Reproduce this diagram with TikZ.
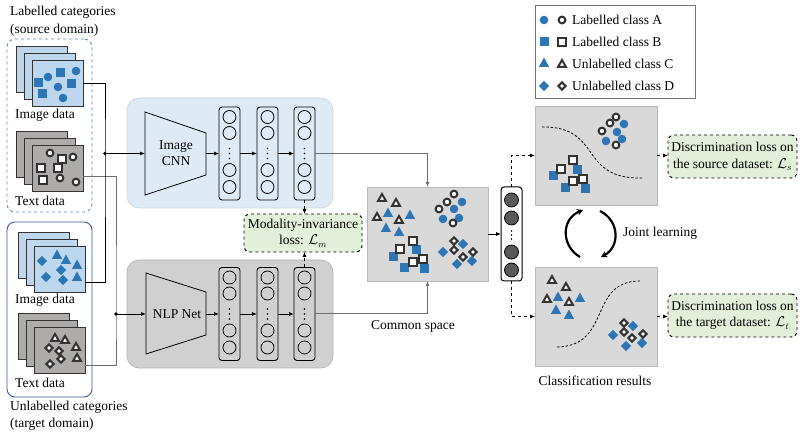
\documentclass[tikz,border=0pt]{standalone}
\usepackage{fontspec}
\setmainfont{Liberation Serif}
\usetikzlibrary{arrows.meta}
\definecolor{mblue}{HTML}{2E75B6}
\definecolor{lblue}{HTML}{BDD7EE}
\definecolor{pblue}{HTML}{DEEBF7}
\definecolor{pgray}{HTML}{D0D0D0}
\definecolor{sgray}{HTML}{D9D9D9}
\definecolor{tgray}{HTML}{AFABAB}
\definecolor{lgreen}{HTML}{E2F0D9}
\definecolor{dgray}{HTML}{333333}
\definecolor{lineg}{HTML}{6E6E6E}
\definecolor{dblue}{HTML}{5B8BC5}
\definecolor{sblue}{HTML}{2F5F9F}
\tikzset{
  hol/.style={draw=dgray, line width=2pt, fill=white, line join=miter},
  txt/.style={font=\fontsize{13.5}{16}\selectfont, inner sep=0pt},
  rbox/.style={inner sep=0pt, outer sep=0pt},
  layerbox/.style={draw, line width=0.9pt, rounded corners=3pt, minimum width=21, minimum height=93, inner sep=0pt, outer sep=0pt},
  tip/.style={-{Latex[length=5pt,width=4pt]}},
  imgline/.style={line width=0.8pt, black},
  txtline/.style={line width=1pt, lineg},
  lossbox/.style={draw, dashed, line width=0.9pt, rounded corners=6pt, fill=lgreen, align=center, inner sep=0pt, outer sep=0pt, font=\fontsize{13.5}{16.5}\selectfont},
  stackrect/.style={draw=dgray, line width=0.9pt},
}
\newcommand\Cf[2]{\fill[mblue] (#1,#2) circle (4.3);}
\newcommand\Ch[2]{\draw[hol] (#1,#2) circle (3.4);}
\newcommand\Sf[2]{\fill[mblue] (#1,#2) ++(-4.5,-4.5) rectangle ++(9,9);}
\newcommand\Sh[2]{\draw[hol] (#1,#2) ++(-3.6,-3.6) rectangle ++(7.2,7.2);}
\newcommand\Tf[2]{\fill[mblue] (#1,#2) ++(0,-5.5) -- ++(5.2,9.5) -- ++(-10.4,0) -- cycle;}
\newcommand\Th[2]{\draw[hol] (#1,#2) ++(0,-4) -- ++(4,7) -- ++(-8,0) -- cycle;}
\newcommand\Df[2]{\fill[mblue] (#1,#2) ++(0,-5.2) -- ++(5.2,5.2) -- ++(-5.2,5.2) -- ++(-5.2,-5.2) -- cycle;}
\newcommand\Dh[2]{\draw[hol] (#1,#2) ++(0,-3.6) -- ++(3.6,3.6) -- ++(-3.6,3.6) -- ++(-3.6,-3.6) -- cycle;}
% stack: name, front left x, front top y, fill
\newcommand\stack[4]{%
  \draw[stackrect, fill=#4] (#2,#3) ++(-16,-14) rectangle ++(51,46);
  \draw[stackrect, fill=#4] (#2,#3) ++(-8,-7) rectangle ++(51,46);
  \node[rbox, draw=dgray, line width=0.9pt, fill=#4, minimum width=51, minimum height=46] (#1) at (#2+25.5,#3+23) {};}
\newcommand\layer[3]{%
  \node[layerbox] (#1) at (#2,#3) {};
  \foreach \d in {-36.5,-20.5,16.5,33.5}{\draw[line width=0.8pt] (#2,#3) ++(0,\d) circle (6.5);}
  \foreach \d in {-5,0,5}{\fill (#2,#3) ++(0,\d) circle (0.8);}}
\begin{document}
\begin{tikzpicture}[x=1pt,y=-1pt]
\useasboundingbox (0,0) rectangle (803,435);

% ---------- left groups ----------
\node[txt, anchor=west] (lab1) at (10,12) {Labelled categories};
\node[txt, anchor=west] (lab2) at (10,30) {(source domain)};
\node[rbox, draw=dblue, dashed, line width=0.9pt, rounded corners=8pt, minimum width=85, minimum height=173] (srcbox) at (49.5,125.5) {};
\stack{imgS}{32}{60}{lblue}
\Cf{48}{77}\Cf{76}{71}\Cf{58}{87}\Cf{63}{98}
\Sf{38}{83}\Sf{60}{73}\Sf{71}{84}\Sf{42}{94}
\node[txt, anchor=west] (imgSl) at (15,115) {Image data};
\stack{txtS}{32}{145}{tgray}
\Sh{62}{159}\Sh{41}{168}\Sh{58}{168}\Sh{43}{180}
\Ch{50}{153}\Ch{73}{157}\Ch{60}{178}\Ch{76}{182}
\node[txt, anchor=west] (txtSl) at (15,201) {Text data};

\node[rbox, draw=sblue, line width=0.9pt, rounded corners=8pt, minimum width=85, minimum height=175] (tgtbox) at (49.5,309.5) {};
\stack{imgT}{34}{246}{lblue}
\Tf{57}{255}\Tf{66}{260}\Tf{77}{265}\Tf{77}{277}
\Df{42}{261}\Df{61}{270}\Df{46}{277}\Df{63}{280}
\node[txt, anchor=west] (imgTl) at (15,300) {Image data};
\stack{txtT}{34}{327}{tgray}
\Th{55}{338}\Th{65}{340}\Th{76}{347}\Th{77}{358}
\Dh{49}{348}\Dh{59}{351}\Dh{61}{359}\Dh{50}{364}
\node[txt, anchor=west] (txtTl) at (15,383) {Text data};
\node[txt, anchor=west] (lab3) at (10,407) {Unlabelled categories};
\node[txt, anchor=west] (lab4) at (10,424) {(target domain)};

% ---------- panels ----------
\node[rbox, draw=pblue!80!gray, line width=0.6pt, fill=pblue, rounded corners=12pt, minimum width=206, minimum height=110] (cnnp) at (230,153) {};
\node[rbox, draw=pgray!85!black, line width=0.6pt, fill=pgray, rounded corners=12pt, minimum width=206, minimum height=108] (nlpp) at (230,314) {};

\draw[line width=0.8pt] (145,112) -- (206,133) -- (206,175) -- (145,195) -- cycle;
\node[txt, align=center] (cnnt) at (176,153) {Image\\CNN};
\coordinate (cnnL) at (145,153.5);
\coordinate (cnnR) at (206,153.5);
\draw[line width=0.8pt] (146,273) -- (206,292) -- (206,335) -- (146,354) -- cycle;
\node[txt] (nlpt) at (177,314) {NLP Net};
\coordinate (nlpL) at (146,314);
\coordinate (nlpR) at (206,314);

\layer{c1}{229.5}{153.5}
\layer{c2}{267.5}{153.5}
\layer{c3}{304.5}{153.5}
\layer{n1}{229.5}{314}
\layer{n2}{267.5}{314}
\layer{n3}{304.5}{314}

% ---------- input connectors ----------
\coordinate (jI) at (105,153.5);
\coordinate (jT) at (116,314);
\draw[txtline] ([yshift=-9pt]txtS.east) -| (jT) |- ([yshift=-16pt]txtT.east);
\draw[imgline] (imgS.east) -| (jI) |- ([yshift=-13pt]imgT.east);
\fill (jI) circle (1.9);
\fill (jT) circle (1.9);
\draw[imgline, tip] (jI) -- (cnnL);
\draw[imgline, tip] (jT) -- (nlpL);
\draw[imgline, tip] (cnnR) -- (c1.west);
\draw[imgline, tip] (c1.east) -- (c2.west);
\draw[imgline, tip] (c2.east) -- (c3.west);
\draw[imgline, tip] (nlpR) -- (n1.west);
\draw[imgline, tip] (n1.east) -- (n2.west);
\draw[imgline, tip] (n2.east) -- (n3.west);

% ---------- modality loss ----------
\node[lossbox, minimum width=118, minimum height=38] (ml) at (303,233) {Modality-invariance\\loss: $\mathcal{L}_m$};
\draw[imgline, dashed, tip] (c3.south) -- (c3.south |- ml.north);
\draw[imgline, dashed, tip] (n3.north) -- (n3.north |- ml.south);

% ---------- common space ----------
\node[rbox, draw=sgray!85!black, line width=0.6pt, fill=sgray, minimum width=121, minimum height=94] (cs) at (427.5,234) {};
\draw[txtline, tip] (c3.east) -| (cs.north);
\draw[txtline, tip] (n3.east) -| (cs.south);
\node[txt] (csl) at (413,326) {Common space};
\Tf{388}{213}\Tf{410}{215}\Tf{386}{228}\Tf{399}{232}
\Th{382}{198}\Th{396}{203}\Th{377}{217}\Th{399}{220}
\Cf{462}{202}\Cf{454}{209}\Cf{443}{219}\Cf{459}{218}
\Ch{454}{194}\Ch{447}{202}\Ch{439}{209}\Ch{453}{223}
\Sf{416}{250}\Sf{393}{257}\Sf{404}{268}\Sf{424}{269}
\Sh{413}{241}\Sh{400}{249}\Sh{423}{259}\Sh{413}{262}
\Df{463}{244}\Df{443}{252}\Df{472}{261}\Df{457}{264}
\Dh{454}{241}\Dh{454}{250}\Dh{463}{257}\Dh{473}{252}

% ---------- classifier ----------
\node[rbox, draw, line width=1pt, fill=white, rounded corners=3pt, minimum width=21, minimum height=94] (cl) at (511.5,234) {};
\foreach \d in {-34,-16,18,36}{\draw[line width=0.8pt, fill=black!65] (511.5,234) ++(0,\d) circle (7);}
\foreach \d in {-4,0,4}{\fill (511.5,235) ++(0,\d) circle (0.8);}
\draw[imgline, tip] (cs.east) -- (cl.west);

% ---------- result panels ----------
\node[rbox, draw=sgray!85!black, line width=0.6pt, fill=sgray, minimum width=122, minimum height=99] (rs) at (596,155.5) {};
\node[rbox, draw=sgray!85!black, line width=0.6pt, fill=sgray, minimum width=122, minimum height=99] (rt) at (596,316.5) {};
\draw[imgline, dashed, tip] (cl.north) |- (rs.west);
\draw[imgline, dashed, tip] (cl.south) |- (rt.west);
\draw[line width=0.8pt, dashed, dash pattern=on 2.5pt off 1.8pt] (542,127) .. controls (603,126) and (578,180) .. (643,178);
\draw[line width=0.8pt, dashed, dash pattern=on 2.5pt off 1.8pt] (557,347) .. controls (612,346) and (588,281) .. (640,281);
\Cf{624}{124}\Cf{617}{132}\Cf{606}{141}\Cf{622}{139}
\Ch{616}{117}\Ch{610}{123}\Ch{602}{131}\Ch{616}{145}
\Sf{577}{170}\Sf{553}{176}\Sf{565}{188}\Sf{585}{189}
\Sh{573}{160}\Sh{561}{169}\Sh{583}{179}\Sh{573}{181}
\Tf{558}{297}\Tf{580}{298}\Tf{556}{310}\Tf{569}{315}
\Th{552}{280}\Th{566}{287}\Th{547}{299}\Th{569}{302}
\Df{633}{326}\Df{613}{335}\Df{642}{343}\Df{626}{346}
\Dh{624}{323}\Dh{643}{334}\Dh{624}{332}\Dh{632}{338}
\node[txt] (crl) at (595,381) {Classification results};

% ---------- loss boxes ----------
\node[lossbox, minimum width=129, minimum height=43] (ls) at (732.5,156.5) {Discrimination loss on\\the source dataset: $\mathcal{L}_s$};
\node[lossbox, minimum width=129, minimum height=43] (lt) at (732.5,315.5) {Discrimination loss on\\the target dataset: $\mathcal{L}_t$};
\draw[imgline, dashed, tip] (rs.east) -- (rs.east -| ls.west);
\draw[imgline, dashed, tip] (rt.east) -- (rt.east -| lt.west);

% ---------- joint learning ----------
\coordinate (jl1) at (580,257);
\coordinate (jl2) at (583,210);
\coordinate (jl3) at (600,211);
\coordinate (jl4) at (601,257);
\draw[line width=2.2pt, -{Stealth[length=6pt,width=6.5pt]}] (jl1) .. controls (561,246) and (561,219) .. (jl2);
\draw[line width=2.2pt, -{Stealth[length=6pt,width=6.5pt]}] (jl3) .. controls (620,221) and (620,247) .. (jl4);
\node[txt, anchor=west] (jll) at (623,233) {Joint learning};

% ---------- legend ----------
\node[rbox, draw=black!55, line width=0.8pt, fill=white, minimum width=160, minimum height=93] (lg) at (615,51.5) {};
\Cf{544}{20}\Ch{562}{20}
\Sf{544}{42}\Sh{562}{42}
\Tf{544}{63}\Th{562}{64}
\Df{544}{86}\Dh{562}{86}
\node[txt, anchor=west] (lgA) at (572,20) {Labelled class A};
\node[txt, anchor=west] (lgB) at (572,42) {Labelled class B};
\node[txt, anchor=west] (lgC) at (572,63.5) {Unlabelled class C};
\node[txt, anchor=west] (lgD) at (572,86) {Unlabelled class D};
\end{tikzpicture}
\end{document}
